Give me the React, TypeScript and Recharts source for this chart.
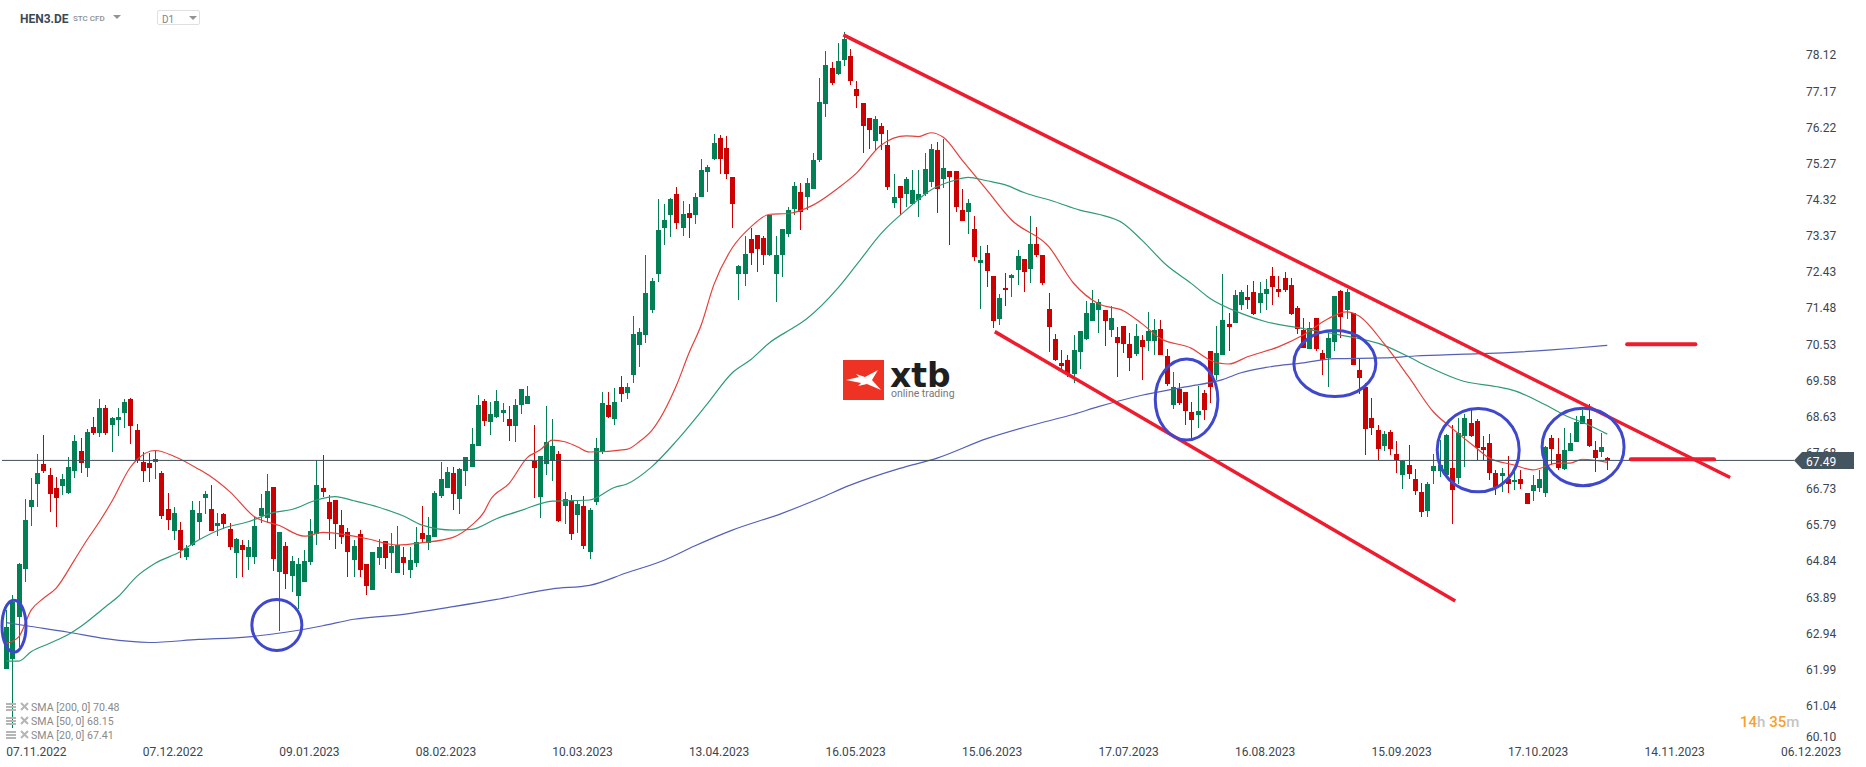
import {
  Bar,
  ComposedChart,
  Line,
  ReferenceDot,
  ReferenceLine,
  XAxis,
  YAxis,
} from "recharts"

const opens = [
  62.02, 62.28, 63.39, 64.65, 66.27, 66.88, 67.39, 67.11, 66.76, 66.83,
  66.64, 67.22, 67.74, 67.30, 68.37, 68.22, 68.87, 68.42, 68.55, 68.74,
  69.10, 68.29, 67.45, 67.42, 67.46, 67.16, 66.21, 65.63, 65.66, 64.96,
  65.28, 65.87, 66.51, 66.21, 65.78, 66.08, 65.69, 65.07, 65.27, 64.96,
  64.96, 66.03, 65.98, 66.79, 64.57, 65.24, 64.46, 63.94, 64.31, 64.83,
  65.57, 66.76, 66.40, 66.45, 65.79, 65.61, 64.87, 65.56, 64.77, 64.09,
  64.93, 65.37, 65.06, 64.53, 64.95, 64.61, 64.80, 65.58, 65.32, 65.48,
  66.55, 66.76, 67.15, 66.48, 67.21, 67.32, 67.87, 69.04, 68.50, 68.62,
  68.74, 68.57, 68.40, 68.95, 68.97, 67.47, 66.53, 67.40, 67.48, 67.65,
  66.30, 66.44, 66.06, 66.29, 65.09, 66.40, 67.71, 68.94, 68.58, 69.41,
  69.26, 69.74, 70.52, 70.79, 71.44, 72.37, 73.60, 73.92, 74.49, 73.60,
  73.99, 73.94, 74.41, 75.06, 75.39, 75.95, 75.69, 74.93, 72.39, 72.37,
  73.30, 73.41, 73.33, 72.88, 72.39, 72.89, 73.44, 74.09, 74.53, 74.41,
  74.62, 75.37, 76.85, 77.79, 77.63, 78.00, 78.10, 77.24, 76.87, 76.48,
  75.88, 76.27, 75.77, 74.25, 74.69, 74.47, 74.23, 74.33, 74.48, 74.80,
  75.64, 74.88, 75.09, 75.09, 74.06, 74.02, 73.56, 72.68, 72.93, 72.33,
  71.21, 72.02, 72.29, 72.50, 72.78, 72.52, 73.17, 72.88, 71.46, 70.68,
  70.05, 70.13, 69.76, 70.34, 70.68, 71.16, 71.44, 71.43, 70.91, 70.72,
  71.01, 70.54, 70.28, 70.65, 70.62, 70.62, 70.93, 70.22, 68.94, 69.36,
  69.28, 68.76, 68.68, 69.25, 70.36, 69.73, 70.25, 71.07, 71.09, 71.56,
  71.77, 71.90, 71.62, 71.85, 72.32, 71.98, 72.27, 72.09, 71.48, 70.91,
  70.41, 71.22, 70.30, 70.17, 70.59, 71.93, 71.43, 71.35, 69.86, 69.41,
  68.60, 68.28, 67.86, 68.23, 67.65, 67.10, 67.36, 67.00, 66.66, 66.16,
  67.21, 67.21, 67.10, 67.29, 67.02, 68.12, 68.47, 68.52, 67.84, 67.94,
  67.15, 67.07, 67.00, 66.92, 67.01, 66.64, 66.69, 66.77, 66.64, 68.08,
  67.66, 67.27, 67.74, 67.98, 68.45, 68.58, 67.77, 67.71, 67.56,
]
const closes = [
  63.12, 63.78, 64.77, 65.93, 66.45, 67.16, 67.22, 66.62, 66.51, 67.00,
  67.32, 68.00, 67.43, 68.24, 68.21, 68.87, 68.21, 68.60, 68.63, 69.02,
  68.40, 67.49, 67.22, 67.30, 67.53, 66.04, 65.93, 66.11, 65.15, 65.20,
  66.19, 66.11, 66.61, 65.64, 65.85, 65.83, 65.22, 65.43, 65.15, 65.22,
  65.77, 66.24, 66.69, 64.90, 65.61, 64.52, 64.85, 64.77, 64.85, 65.64,
  66.84, 66.66, 65.95, 65.82, 65.48, 65.09, 65.24, 64.61, 64.19, 65.09,
  65.22, 64.93, 65.24, 65.27, 64.80, 64.87, 65.35, 65.43, 65.53, 66.63,
  67.00, 67.19, 66.62, 67.26, 67.57, 67.91, 68.94, 68.53, 68.70, 69.04,
  68.81, 68.40, 68.94, 69.36, 69.17, 67.29, 67.60, 67.97, 67.86, 65.90,
  66.47, 65.56, 66.34, 65.25, 66.18, 67.81, 68.99, 68.62, 69.02, 69.24,
  69.41, 70.80, 70.85, 71.88, 72.19, 73.54, 73.80, 74.35, 73.71, 73.96,
  73.84, 74.41, 75.12, 75.19, 75.82, 75.40, 75.01, 74.23, 72.59, 72.91,
  72.94, 73.05, 72.89, 73.93, 72.88, 73.56, 74.06, 74.69, 74.01, 74.77,
  75.37, 76.90, 77.87, 77.40, 77.97, 78.55, 77.46, 77.06, 76.28, 76.17,
  76.45, 76.07, 74.67, 74.40, 74.39, 74.88, 74.59, 74.48, 75.14, 75.66,
  74.62, 75.16, 74.94, 74.15, 73.78, 74.25, 72.84, 72.75, 72.47, 71.15,
  71.75, 71.95, 72.36, 72.86, 72.44, 73.17, 72.89, 72.15, 71.00, 70.13,
  69.97, 69.76, 70.39, 70.89, 71.36, 71.62, 71.65, 71.14, 71.22, 70.57,
  70.54, 70.17, 70.75, 70.46, 70.88, 70.91, 70.25, 69.49, 69.41, 68.99,
  68.78, 68.55, 68.78, 68.81, 69.41, 70.30, 71.17, 70.99, 71.83, 71.90,
  71.70, 71.33, 71.88, 71.98, 72.04, 71.90, 71.96, 71.33, 70.93, 70.43,
  70.96, 70.41, 70.12, 70.70, 71.80, 71.25, 71.90, 69.99, 69.65, 68.31,
  68.34, 67.78, 68.18, 67.78, 67.49, 67.48, 67.13, 66.68, 66.13, 66.87,
  67.34, 67.36, 68.15, 66.71, 68.20, 68.60, 68.12, 67.81, 67.76, 67.16,
  66.80, 67.16, 66.88, 66.97, 66.88, 66.35, 66.84, 67.01, 67.85, 67.79,
  67.30, 67.77, 67.95, 68.50, 68.66, 67.87, 67.56, 67.85, 67.49,
]
const highs = [
  63.56, 63.96, 64.81, 66.48, 67.04, 67.66, 68.16, 67.28, 67.06, 67.13,
  67.57, 68.16, 68.07, 68.31, 68.64, 69.10, 68.94, 68.64, 68.87, 69.10,
  69.13, 68.45, 67.71, 67.68, 67.74, 67.21, 66.63, 66.27, 65.87, 65.27,
  66.42, 66.42, 66.69, 66.84, 66.11, 66.11, 65.85, 65.46, 65.40, 65.40,
  66.00, 66.61, 67.13, 66.79, 65.61, 65.34, 64.99, 64.92, 65.14, 65.95,
  67.50, 67.63, 66.58, 66.45, 66.19, 65.72, 65.40, 65.66, 64.77, 65.09,
  65.43, 65.37, 65.58, 65.77, 65.22, 65.22, 65.74, 66.29, 66.00, 66.69,
  67.45, 67.32, 67.32, 67.28, 67.57, 68.33, 69.20, 69.10, 69.02, 69.33,
  68.99, 68.91, 69.10, 69.36, 69.44, 68.41, 67.60, 68.91, 68.57, 67.73,
  66.66, 66.58, 66.45, 66.55, 66.23, 68.07, 69.28, 69.28, 69.39, 69.70,
  69.52, 71.27, 70.96, 72.88, 72.27, 74.35, 74.22, 74.38, 74.67, 74.30,
  74.22, 74.51, 75.40, 75.25, 76.06, 76.03, 76.01, 74.93, 72.62, 73.38,
  73.59, 73.41, 73.38, 73.93, 73.38, 73.56, 74.14, 74.80, 74.77, 74.90,
  75.56, 77.53, 78.24, 77.95, 78.45, 78.74, 78.29, 77.45, 76.87, 76.48,
  76.53, 76.35, 76.16, 75.01, 74.69, 74.93, 75.11, 75.11, 75.56, 75.80,
  75.85, 75.93, 75.09, 75.09, 74.61, 74.35, 73.90, 73.12, 73.14, 72.33,
  71.87, 72.41, 72.38, 73.01, 72.78, 73.90, 73.62, 72.88, 71.88, 70.81,
  70.39, 70.26, 70.78, 70.89, 71.67, 71.96, 71.73, 71.43, 71.54, 70.99,
  71.01, 70.83, 71.06, 70.78, 71.38, 71.20, 71.17, 70.41, 69.80, 69.52,
  69.28, 69.02, 69.44, 69.33, 70.36, 71.01, 72.38, 71.35, 71.96, 71.96,
  72.09, 72.19, 72.17, 72.25, 72.56, 72.32, 72.43, 72.27, 71.54, 71.22,
  71.12, 71.22, 70.38, 70.83, 71.80, 71.96, 71.98, 71.35, 70.17, 69.51,
  69.12, 68.41, 68.26, 68.28, 67.99, 67.49, 67.89, 67.26, 66.89, 66.92,
  67.65, 68.02, 68.19, 68.41, 68.60, 68.70, 68.81, 68.57, 68.12, 68.18,
  67.23, 67.30, 67.61, 67.24, 67.24, 66.64, 67.11, 67.24, 67.87, 68.16,
  68.08, 68.35, 68.21, 68.66, 68.82, 68.97, 68.00, 68.21, 67.58,
]
const lows = [
  62.02, 60.47, 62.60, 64.31, 65.78, 66.27, 67.15, 66.14, 65.75, 66.58,
  66.61, 67.04, 67.15, 67.06, 68.16, 68.10, 68.16, 67.72, 68.13, 68.35,
  67.92, 67.43, 66.91, 66.91, 67.01, 65.96, 65.67, 65.40, 64.92, 64.87,
  65.25, 65.40, 66.08, 65.64, 65.51, 65.69, 65.15, 64.41, 64.44, 64.61,
  64.77, 65.84, 65.84, 64.59, 63.00, 64.11, 64.03, 63.60, 64.31, 64.74,
  65.27, 66.52, 65.40, 65.16, 65.30, 64.43, 64.43, 64.43, 63.96, 64.09,
  64.74, 64.64, 64.53, 64.53, 64.48, 64.41, 64.70, 65.32, 65.14, 65.48,
  66.50, 66.76, 66.18, 66.09, 66.82, 67.32, 67.87, 68.40, 68.16, 68.60,
  68.50, 68.00, 67.98, 68.70, 68.97, 66.51, 65.98, 67.10, 66.95, 65.88,
  65.82, 65.40, 65.59, 65.17, 64.90, 66.32, 67.66, 68.60, 68.42, 69.03,
  69.10, 69.53, 69.94, 70.58, 71.36, 72.16, 73.15, 73.36, 73.57, 73.38,
  73.33, 73.70, 74.41, 74.54, 75.38, 75.01, 74.88, 73.59, 71.71, 72.08,
  72.62, 72.44, 72.62, 72.86, 71.66, 72.31, 73.36, 73.93, 73.55, 74.07,
  74.62, 75.32, 76.51, 77.34, 77.61, 77.84, 77.33, 76.74, 75.57, 75.66,
  75.61, 75.64, 74.60, 74.12, 73.93, 74.15, 74.20, 73.89, 74.43, 74.67,
  73.99, 74.63, 73.14, 74.02, 73.78, 73.44, 72.72, 71.47, 72.04, 70.97,
  71.05, 71.55, 71.79, 72.09, 71.92, 72.15, 72.84, 72.09, 70.34, 70.09,
  69.86, 69.69, 69.51, 69.90, 70.65, 71.15, 70.84, 70.49, 70.72, 69.68,
  70.30, 69.83, 70.23, 69.60, 70.36, 70.25, 70.25, 69.45, 68.83, 68.94,
  68.41, 68.09, 68.33, 68.55, 68.99, 69.60, 70.25, 70.36, 71.09, 71.43,
  71.46, 71.30, 71.35, 71.43, 71.56, 71.77, 71.90, 71.30, 70.82, 70.43,
  70.41, 70.36, 69.73, 69.42, 70.36, 70.70, 71.20, 69.99, 69.23, 67.63,
  68.15, 67.49, 67.73, 67.63, 67.15, 66.73, 66.99, 66.58, 66.00, 66.00,
  66.87, 67.06, 67.08, 65.81, 66.88, 67.32, 68.11, 67.49, 67.49, 66.98,
  66.58, 66.65, 66.64, 66.72, 66.74, 66.35, 66.43, 66.65, 66.54, 67.37,
  67.24, 67.24, 67.74, 67.98, 68.45, 67.85, 67.19, 67.58, 67.24,
]

// moving averages at the candles listed
const sma20At = [
  0, 2, 4, 6, 8, 11, 13, 15, 17, 20, 21, 24, 27, 31, 33, 36, 40, 44, 48, 51, 55, 58, 63, 67, 72, 75,
  77, 78, 81, 84, 86, 88, 90, 92, 94, 100, 102, 104, 108, 110, 112, 114, 117, 120, 123, 126, 130,
  134, 137, 141, 145, 147, 149, 151, 154, 158, 162, 168, 172, 176, 180, 183, 186, 191, 194, 197,
  200, 205, 209, 213, 216, 218, 222, 226, 230, 233, 237, 239, 243, 246, 250, 252, 254, 258,
]
const sma20Values = [
  62.69, 62.86, 63.56, 63.87, 64.13, 64.88, 65.40, 65.88, 66.41, 67.31, 67.50, 67.75, 67.60, 67.26,
  67.06, 66.67, 66.01, 65.78, 65.50, 65.60, 65.53, 65.44, 65.27, 65.33, 65.47, 65.79, 66.14, 66.45,
  66.88, 67.57, 67.76, 68.02, 67.98, 67.85, 67.71, 67.78, 67.98, 68.27, 69.46, 70.30, 71.05, 72.09,
  73.07, 73.62, 73.95, 73.97, 74.19, 74.63, 75.03, 75.77, 76.01, 75.99, 76.09, 75.97, 75.38, 74.59,
  73.80, 73.10, 72.14, 71.60, 71.42, 71.08, 70.69, 70.43, 70.12, 70.02, 70.21, 70.47, 70.78, 71.21,
  71.39, 71.28, 70.56, 69.68, 68.76, 68.33, 67.80, 67.55, 67.37, 67.24, 67.42, 67.42, 67.52, 67.44,
]
const sma50At = [
  0, 2, 4, 7, 10, 12, 16, 18, 21, 24, 28, 31, 35, 39, 43, 46, 50, 53, 56, 60, 64, 67, 72, 75, 79,
  83, 88, 94, 98, 100, 104, 108, 113, 117, 120, 123, 127, 129, 134, 137, 141, 145, 149, 153, 155,
  158, 161, 164, 169, 173, 176, 180, 183, 187, 191, 194, 199, 203, 209, 215, 222, 226, 229, 235,
  240, 243, 248, 251, 255, 258,
]
const sma50Values = [
  62.23, 62.22, 62.47, 62.69, 62.92, 63.13, 63.65, 63.91, 64.44, 64.79, 65.09, 65.40, 65.71, 65.88,
  66.12, 66.20, 66.45, 66.54, 66.43, 66.26, 66.03, 65.79, 65.66, 65.68, 65.96, 66.18, 66.42, 66.45,
  66.78, 66.87, 67.32, 68.00, 68.98, 69.79, 70.14, 70.58, 70.99, 71.21, 72.01, 72.62, 73.45, 74.06,
  74.59, 74.85, 74.92, 74.83, 74.72, 74.52, 74.28, 74.06, 73.95, 73.71, 73.27, 72.61, 72.13, 71.74,
  71.35, 71.13, 70.95, 70.78, 70.51, 70.21, 69.96, 69.56, 69.43, 69.32, 68.95, 68.69, 68.42, 68.18,
]
const sma200At = [
  0, 4, 10, 16, 23, 31, 39, 45, 51, 56, 64, 72, 79, 88, 94, 100, 106, 111, 117, 125, 131, 136, 144,
  150, 158, 165, 172, 176, 183, 190, 196, 199, 203, 209, 214, 222, 227, 235, 242, 249, 253, 258,
]
const sma200Values = [
  63.23, 63.13, 62.98, 62.81, 62.71, 62.79, 62.86, 62.98, 63.15, 63.32, 63.45, 63.65, 63.84, 64.12,
  64.21, 64.54, 64.87, 65.25, 65.66, 66.10, 66.49, 66.84, 67.28, 67.55, 68.06, 68.40, 68.70, 68.90,
  69.20, 69.42, 69.61, 69.79, 69.93, 70.05, 70.16, 70.18, 70.23, 70.28, 70.32, 70.39, 70.44, 70.51,
]

const priceTicks = [
  78.12, 77.17, 76.22, 75.27, 74.32, 73.37, 72.43, 71.48, 70.53, 69.58, 68.63, 67.68, 66.73, 65.79,
  64.84, 63.89, 62.94, 61.99, 61.04, 60.1,
]
const dateLabels = [
  "07.11.2022", "07.12.2022", "09.01.2023", "08.02.2023", "10.03.2023", "13.04.2023", "16.05.2023",
  "15.06.2023", "17.07.2023", "16.08.2023", "15.09.2023", "17.10.2023", "14.11.2023", "06.12.2023",
]
const dateTicks = dateLabels.map((_, n) => n * 22)

const LAST_PRICE = 67.49

// drawn on the chart by hand: [x1, y1, x2, y2] in candles / price
const trendLines = [
  [134.9, 78.66, 277.8, 67.04],
  [159.3, 70.87, 233.5, 63.8],
]
const levelLines = [
  [261.2, 272.2, 70.54],
  [261.8, 275.2, 67.52],
]
// [candle, price, rx, ry]
const circles = [
  [1.24, 63.14, 12, 26],
  [43.6, 63.17, 25, 25.5],
  [190.2, 69.09, 31.3, 40.5],
  [214.1, 70.03, 41, 33],
  [237.2, 67.76, 41, 41.7],
  [254.1, 67.84, 41, 38.7],
]

const smaLegend = ["SMA [200, 0] 70.48", "SMA [50, 0] 68.15", "SMA [20, 0] 67.41"]

const UP = "#037f55"
const DOWN = "#cc0000"
const FONT = "Roboto, sans-serif"
const TICK_COLOR = "#3a4750"

const rows = opens.map((open, i) => ({
  i,
  open,
  close: closes[i],
  range: [lows[i], highs[i]],
  sma20: sma20Values[sma20At.indexOf(i)] ?? null,
  sma50: sma50Values[sma50At.indexOf(i)] ?? null,
  sma200: sma200Values[sma200At.indexOf(i)] ?? null,
}))

function Candle(props: any) {
  const { x, y, width, height, payload } = props
  const [low, high] = payload.range
  const perUnit = height / (high - low)
  const color = payload.close >= payload.open ? UP : DOWN
  const top = y + (high - Math.max(payload.open, payload.close)) * perUnit
  const bottom = y + (high - Math.min(payload.open, payload.close)) * perUnit
  const mid = x + width / 2
  return (
    <g shapeRendering="crispEdges">
      <rect x={Math.round(mid - 0.5)} y={y} width={1} height={height} fill={color} />
      <rect x={Math.round(mid - 2.5)} y={top} width={5} height={Math.max(bottom - top, 1.5)} fill={color} />
    </g>
  )
}

function PriceTick({ x, y, payload }: any) {
  // the lowest label is pushed up so that it stays clear of the dates
  const shift = payload.value === 60.1 ? -5 : 0
  return (
    <text x={x + 6} y={y + shift + 4} fontSize={12} fontFamily={FONT} fill={TICK_COLOR}>
      {payload.value.toFixed(2)}
    </text>
  )
}

function DateTick({ x, y, payload }: any) {
  return (
    <text x={x} y={y + 5} fontSize={12} fontFamily={FONT} fill={TICK_COLOR}>
      {dateLabels[payload.value / 22]}
    </text>
  )
}

// sits over the axis, which hides most of the 67.68 label as in the original
function PriceTag() {
  return (
    <svg width={72} height={18} style={{ position: "absolute", left: 1794, top: 452 }}>
      <polygon points="0,8.5 8,0 60,0 60,17 8,17" fill="#455560" />
      <text x={12} y={13.5} fontSize={12} fontFamily={FONT} fill="#ffffff">
        {LAST_PRICE.toFixed(2)}
      </text>
    </svg>
  )
}

function Header() {
  return (
    <>
      <div style={{ position: "absolute", left: 20, top: 12, font: `700 12px ${FONT}`, color: "#3a4a55" }}>HEN3.DE</div>
      <div style={{ position: "absolute", left: 73, top: 14, font: `500 8px ${FONT}`, color: "#8a8f94" }}>STC CFD</div>
      <div style={{ position: "absolute", left: 157, top: 10, width: 43, height: 15, border: "1px solid #e0e0e0", borderRadius: 2, boxSizing: "border-box" }} />
      <div style={{ position: "absolute", left: 162, top: 14, font: `400 10px ${FONT}`, color: "#7c858c" }}>D1</div>
      <svg width={220} height={30} style={{ position: "absolute", left: 0, top: 0 }}>
        <polygon points="113,15 121,15 117,19" fill="#8f9498" />
        <polygon points="189,16 197,16 193,20" fill="#8f9498" />
      </svg>
    </>
  )
}

function Logo() {
  return (
    <>
      <svg width={42} height={42} style={{ position: "absolute", left: 843, top: 360 }}>
        <rect x={0} y={0} width={41} height={40} fill="#ee3324" />
        <polygon points="3,20 16,17 13,14 22,17 35,10 29,20 38,30 24,24 15,26 18,23" fill="#ffffff" />
      </svg>
      <div style={{ position: "absolute", left: 890, top: 364, font: `700 33px/24px "DejaVu Sans", sans-serif`, color: "#1f1f1f" }}>xtb</div>
      <div style={{ position: "absolute", left: 891, top: 388, font: `400 10.5px/12px ${FONT}`, color: "#77787b" }}>online trading</div>
    </>
  )
}

function SmaLegend() {
  return (
    <>
      {smaLegend.map((label, n) => (
        <div key={label}>
          <svg width={30} height={12} style={{ position: "absolute", left: 5, top: 702 + n * 14 }}>
            <rect x={1} y={1} width={10} height={2} fill="#b5b5b5" />
            <rect x={1} y={4} width={10} height={2} fill="#b5b5b5" />
            <rect x={1} y={7} width={10} height={2} fill="#b5b5b5" />
            <path d="M16 1 L23 8 M23 1 L16 8" stroke="#b5b5b5" strokeWidth={2} />
          </svg>
          <div style={{ position: "absolute", left: 31, top: 701 + n * 14, font: `400 10.6px/13px ${FONT}`, color: "#8a8a8a", whiteSpace: "pre" }}>
            {label}
          </div>
        </div>
      ))}
    </>
  )
}

function Countdown() {
  return (
    <div style={{ position: "absolute", left: 1740, top: 713, font: `500 15px ${FONT}`, color: "#c4c4c4" }}>
      <span style={{ color: "#f7a030" }}>14</span>h <span style={{ color: "#f7a030" }}>35</span>m
    </div>
  )
}

export default function App() {
  return (
    <div style={{ position: "absolute", left: 0, top: 0, width: 1866, height: 767, background: "#fff", overflow: "hidden" }}>
      <ComposedChart
        width={1866}
        height={767}
        data={rows}
        margin={{ top: 0, right: 0, bottom: 0, left: 2 }}
      >
        <XAxis
          dataKey="i"
          type="number"
          domain={[-0.693, 288.09]}
          ticks={dateTicks}
          allowDataOverflow
          axisLine={false}
          tickLine={false}
          tickMargin={0}
          height={22}
          interval={0}
          tick={<DateTick />}
        />
        <YAxis
          type="number"
          orientation="right"
          domain={[60.02, 79.574]}
          ticks={priceTicks}
          allowDataOverflow
          axisLine={false}
          tickLine={false}
          tickMargin={0}
          width={72}
          interval={0}
          tick={<PriceTick />}
        />
        <Bar dataKey="range" barSize={5} shape={<Candle />} isAnimationActive={false} />
        <Line dataKey="sma200" stroke="#5460b8" strokeWidth={1.2} dot={false} connectNulls type="monotone" isAnimationActive={false} />
        <Line dataKey="sma50" stroke="#2f9a78" strokeWidth={1.2} dot={false} connectNulls type="monotone" isAnimationActive={false} />
        <Line dataKey="sma20" stroke="#e5403a" strokeWidth={1.2} dot={false} connectNulls type="monotone" isAnimationActive={false} />
        <ReferenceLine y={LAST_PRICE} stroke="#3f4f5a" strokeWidth={1} ifOverflow="visible" />
        {trendLines.map(([x1, y1, x2, y2]) => (
          <ReferenceLine
            key={x1}
            segment={[{ x: x1, y: y1 }, { x: x2, y: y2 }]}
            stroke="#ed1c2e"
            strokeWidth={3.5}
            ifOverflow="visible"
          />
        ))}
        {levelLines.map(([x1, x2, y]) => (
          <ReferenceLine
            key={x1}
            segment={[{ x: x1, y }, { x: x2, y }]}
            stroke="#ed1c2e"
            strokeWidth={4}
            strokeLinecap="round"
            ifOverflow="visible"
          />
        ))}
        {circles.map(([x, y, rx, ry]) => (
          <ReferenceDot
            key={x}
            x={x}
            y={y}
            ifOverflow="visible"
            shape={(p: any) => (
              <ellipse cx={p.cx} cy={p.cy} rx={rx} ry={ry} fill="none" stroke="#3f48cc" strokeWidth={3} />
            )}
          />
        ))}
      </ComposedChart>
      <PriceTag />
      <Header />
      <Logo />
      <SmaLegend />
      <Countdown />
    </div>
  )
}
